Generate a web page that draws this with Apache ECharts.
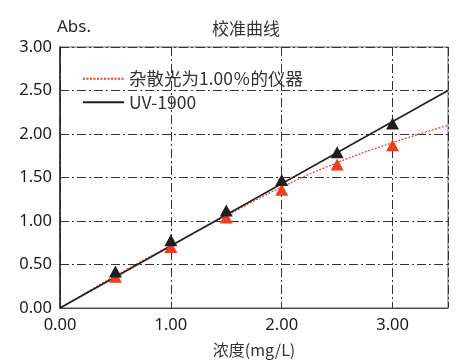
<!DOCTYPE html>
<html><head><meta charset="utf-8">
<script src="https://cdn.jsdelivr.net/npm/echarts@6/dist/echarts.min.js"></script>
<style>html,body{margin:0;padding:0;background:#fff}#c{width:468px;height:363px}</style>
</head><body><div id="c"></div>
<script>
const concentrations = [0.5, 1.0, 1.5, 2.0, 2.5, 3.0];
const uvValues = [0.42, 0.78, 1.12, 1.47, 1.79, 2.12];
const strayValues = [0.36, 0.70, 1.04, 1.36, 1.65, 1.87];
const uvLine = [[0, 0], [3.5, 2.5]];
const strayCurve = [[0, 0], [0.5, 0.37], [1.0, 0.72], [1.5, 1.06], [2.0, 1.39], [2.5, 1.67], [3.0, 1.90], [3.5, 2.10]];
const seriesNames = ['杂散光为1.00％的仪器', 'UV-1900'];
const titleText = '校准曲线';
const yName = 'Abs.';
const xName = '浓度(mg/L)';

const FONT = '"Noto Sans CJK SC", "Noto Sans", sans-serif';
const RED = '#f03c22';
const BLACK = '#1e1e1e';
const gridDash = [9, 3, 2, 3];

const chart = echarts.init(document.getElementById('c'));
chart.setOption({
  animation: false,
  backgroundColor: '#fff',
  graphic: [
    { type: 'text', left: 212, top: 20,
      style: { text: titleText, font: '17px "Noto Sans CJK SC", sans-serif', fill: '#333' } },
    { type: 'text', left: 57, top: 19,
      style: { text: yName, font: '17px "Noto Sans", sans-serif', fill: '#222' } }
  ],
  legend: {
    orient: 'vertical', left: 77, top: 65, itemWidth: 41, itemHeight: 10, itemGap: 6,
    data: seriesNames,
    itemStyle: { opacity: 0 },
    textStyle: { fontFamily: FONT, fontSize: 17.5, color: '#333' }
  },
  grid: { left: 60, right: 20, top: 47, bottom: 54, show: true, borderColor: '#666', borderWidth: 1 },
  xAxis: {
    type: 'value', min: 0, max: 3.5, interval: 1,
    name: xName, nameLocation: 'middle', nameGap: 34,
    nameTextStyle: { fontFamily: FONT, fontSize: 16, color: '#333' },
    axisLine: { lineStyle: { color: '#444', width: 1 } },
    axisTick: { show: false },
    axisLabel: { fontFamily: '"Noto Sans", sans-serif', fontSize: 16.5, color: '#1a1a1a', margin: 9,
      showMaxLabel: false, formatter: v => v.toFixed(2) },
    splitLine: { show: true, lineStyle: { color: '#333', width: 1, type: gridDash } }
  },
  yAxis: {
    type: 'value', min: 0, max: 3, interval: 0.5,
    axisLine: { show: true, lineStyle: { color: '#222', width: 1.5 } },
    axisTick: { show: false },
    axisLabel: { fontFamily: '"Noto Sans", sans-serif', fontSize: 16.5, color: '#1a1a1a', margin: 8,
      formatter: v => v.toFixed(2) },
    splitLine: { show: true, lineStyle: { color: '#333', width: 1, type: gridDash } }
  },
  series: [
    { name: seriesNames[0], type: 'line', data: strayCurve, smooth: true, symbol: 'none',
      lineStyle: { color: RED, width: 1.2, type: [2, 1.5] }, itemStyle: { color: RED }, z: 3 },
    { name: seriesNames[1], type: 'line', data: uvLine, symbol: 'none',
      lineStyle: { color: BLACK, width: 1.5 }, itemStyle: { color: BLACK }, z: 4 },
    { type: 'scatter', data: concentrations.map((x, i) => [x, strayValues[i]]),
      symbol: 'triangle', symbolSize: [13, 12], itemStyle: { color: RED, opacity: 1 }, z: 5 },
    { type: 'scatter', data: concentrations.map((x, i) => [x, uvValues[i]]),
      symbol: 'triangle', symbolSize: [13, 12], itemStyle: { color: BLACK, opacity: 1 }, z: 6 }
  ]
});
</script></body></html>
